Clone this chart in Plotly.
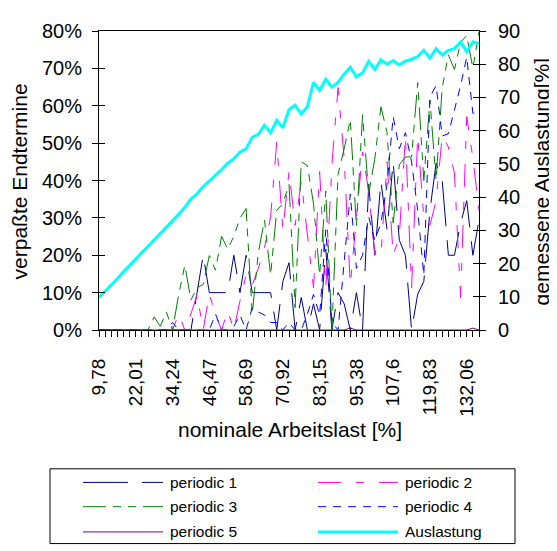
import plotly.graph_objects as go

nominal_load = [9.78, 11.82, 13.86, 15.89, 17.93, 19.97, 22.01, 24.05, 26.09, 28.12,
                30.16, 32.20, 34.24, 36.28, 38.32, 40.35, 42.39, 44.43, 46.47, 48.51,
                50.55, 52.58, 54.62, 56.66, 58.69, 60.73, 62.77, 64.81, 66.85, 68.88,
                70.92, 72.96, 75.00, 77.04, 79.08, 81.11, 83.15, 85.19, 87.23, 89.27,
                91.31, 93.34, 95.38, 97.42, 99.46, 101.50, 103.53, 105.57, 107.60, 109.64,
                111.68, 113.72, 115.76, 117.79, 119.83, 121.87, 123.91, 125.95, 127.98, 130.02,
                132.06, 134.10, 136.14]

tick_labels = ["9,78", "22,01", "34,24", "46,47", "58,69", "70,92",
               "83,15", "95,38", "107,6", "119,83", "132,06"]

periodic_1 = [0]*15 + [0, 10, 20, 10, 10, 10, 10, 20, 10, 20, 10, 10, 10, 10, 0, 13, 18, 0, 8.7, 0,
                       7, 0, 21.6, 0, 10, 7, 0, 10, 0, 39, 20, 39.8, 26.8, 45, 24, 20, 0, 9.6, 13, 32,
                       44.6, 40, 20, 20, 28.6, 34.6, 20, 29.4]
periodic_2 = [0]*13 + [4.3, 0, 4.3, 9.5, 0, 9.6, 4, 0, 5.2, 0, 7.8, 14.7, 12, 16.5, 22, 30.3, 50.2,
                       26.8, 42.4, 28, 39.8, 25.1, 11.3, 42.4, 11.3, 44.2, 64.9, 45.9, 12, 30, 47.6,
                       37.2, 20, 20, 45, 20, 25, 51.9, 11.3, 51.9, 30, 28, 34.6, 51.9, 49, 42, 8.7,
                       57.1, 46, 32]
periodic_3 = [0]*9 + [3.5, 1, 4.8, 0, 9.5, 17.3, 8, 11.3, 12.2, 19.9, 16, 25.1, 21.6, 25.1, 29.9,
                      32.5, 4.3, 20.8, 29.4, 14.7, 32, 33.8, 39, 6, 45, 44, 33.8, 14.7, 37.2, 0, 41.6,
                      48.5, 56.3, 27.7, 57.6, 36.4, 45.9, 59.7, 52.8, 28.6, 44.2, 46.3, 46.3, 66.2,
                      40, 61.5, 40, 64.9, 73.6, 69.7, 77, 78.8, 70.1, 79.7]
periodic_4 = [0]*12 + [2, 0, 0, 0, 0, 0, 0, 4.3, 0, 0, 1, 4, 0, 6, 4.8, 4, 2, 2, 0, 2, 0, 0, 4.3,
                       9.5, 4, 26.8, 2, 0, 18, 36.4, 16.5, 20, 30.3, 24, 28.6, 39, 57.1, 48.5, 52.8,
                       45, 32, 14.7, 62.3, 65.4, 51.9, 52.5, 58.9, 65.4, 73, 58, 58]
periodic_5 = [0]*41 + [0.5] + [0]*19 + [0.5, 0]
auslastung = [9.8, 11.6, 13.5, 15.4, 17.5, 19.4, 21.3, 23.2, 25.1, 27.0,
              29.0, 30.8, 32.8, 34.8, 36.9, 39.4, 41.0, 43.2, 44.8, 46.5,
              48.3, 50.2, 51.5, 53.6, 54.5, 58.0, 58.9, 61.6, 59.4, 63.1,
              60.9, 66.3, 67.7, 65.0, 67.2, 74.5, 72.1, 75.5, 73.1, 74.5,
              77.0, 79.1, 76.2, 77.4, 80.9, 78.4, 81.3, 80.0, 81.1, 79.8,
              80.9, 81.5, 82.3, 84.2, 81.8, 84.7, 82.8, 84.2, 84.7, 86.7,
              83.8, 86.7, 86.2]

left_ticks = [0, 10, 20, 30, 40, 50, 60, 70, 80]
right_ticks = [0, 10, 20, 30, 40, 50, 60, 70, 80, 90]

FONT = "Liberation Sans, Arial, sans-serif"
OFF = 8                      # page body margin of the html page
PAGE_W, PAGE_H = 557, 551
W, H = PAGE_W - OFF, PAGE_H - OFF
L, R, T, B = 99, 479, 22, 330   # plot area in page pixels


def xp(px):
    return (px - L) / (R - L)


def yp(py):
    return (B - py) / (B - T)


series = [
    ("periodic 1", periodic_1, "#000080", "45px,14px"),
    ("periodic 2", periodic_2, "#FF00FF", "23px,15px,8px,15px"),
    ("periodic 3", periodic_3, "#008000", "23px,7px,8px,7px,8px,7px"),
    ("periodic 4", periodic_4, "#0000FF", "8px,7px"),
    ("periodic 5", periodic_5, "#800080", "solid"),
]

fig = go.Figure()
for name, vals, color, dash in series:
    fig.add_trace(go.Scatter(x=nominal_load, y=vals, mode="lines", name=name,
                             line=dict(color=color, width=1, dash=dash),
                             yaxis="y", showlegend=False))
fig.add_trace(go.Scatter(x=nominal_load, y=auslastung, mode="lines", name="Auslastung",
                         line=dict(color="#00FFFF", width=3), yaxis="y2", showlegend=False))
# helper axes for the inward half of the crossing tick marks
fig.add_trace(go.Scatter(x=[], y=[], yaxis="y3", showlegend=False, hoverinfo="skip"))
fig.add_trace(go.Scatter(x=[], y=[], yaxis="y4", showlegend=False, hoverinfo="skip"))

ticktext = [tick_labels[i // 6] if i % 6 == 0 else "" for i in range(len(nominal_load))]

fig.update_layout(
    width=W, height=H, autosize=False,
    margin=dict(l=L - OFF, r=PAGE_W - R, t=T - OFF, b=PAGE_H - B, pad=0),
    paper_bgcolor="white", plot_bgcolor="white",
    font=dict(family=FONT, color="black", size=19),
    showlegend=False,
    xaxis=dict(range=[nominal_load[0], nominal_load[-1]], tickmode="array",
               tickvals=nominal_load, ticktext=ticktext, tickangle=-90,
               ticks="outside", ticklen=6, tickcolor="black", tickwidth=1,
               showline=True, linecolor="black", linewidth=1, mirror=True,
               showgrid=False, zeroline=False, tickfont=dict(size=19, family=FONT),
               ticklabelstandoff=14),
    yaxis=dict(range=[0, 80], tickmode="array", tickvals=left_ticks,
               ticktext=[f"{v}%" for v in left_ticks], ticks="outside", ticklen=6,
               tickcolor="black", showline=True, linecolor="black", linewidth=1,
               showgrid=False, zeroline=False, tickfont=dict(size=20, family=FONT),
               ticklabelstandoff=6),
    yaxis2=dict(range=[0, 90], tickmode="array", tickvals=right_ticks,
                overlaying="y", side="right", ticks="outside", ticklen=6,
                tickcolor="black", showline=True, linecolor="black", linewidth=1,
                showgrid=False, zeroline=False, tickfont=dict(size=20, family=FONT),
                ticklabelstandoff=8),
    yaxis3=dict(range=[0, 80], tickmode="array", tickvals=left_ticks, overlaying="y",
                side="left", ticks="inside", ticklen=6, tickcolor="black",
                showticklabels=False, showline=False, showgrid=False, zeroline=False),
    yaxis4=dict(range=[0, 90], tickmode="array", tickvals=right_ticks, overlaying="y",
                side="right", ticks="inside", ticklen=6, tickcolor="black",
                showticklabels=False, showline=False, showgrid=False, zeroline=False),
)

annotations = [
    dict(text="nominale Arbeitslast [%]", x=xp(290), y=yp(433), xref="paper", yref="paper",
         showarrow=False, font=dict(size=21, family=FONT), xanchor="center", yanchor="middle"),
    dict(text="verpaßte Endtermine", x=xp(19), y=yp(177), xref="paper", yref="paper",
         showarrow=False, textangle=-90, font=dict(size=21, family=FONT),
         xanchor="center", yanchor="middle"),
    dict(text="gemessene Auslastung[%]", x=xp(541), y=yp(177), xref="paper", yref="paper",
         showarrow=False, textangle=-90, font=dict(size=21, family=FONT),
         xanchor="center", yanchor="middle"),
]

shapes = [dict(type="rect", xref="paper", yref="paper", x0=xp(50), x1=xp(515),
               y0=yp(473), y1=yp(550), line=dict(color="black", width=1), fillcolor="white",
               layer="below")]

legend_items = [(s[0], s[2], s[3], 1) for s in series] + [("Auslastung", "#00FFFF", "solid", 3)]
rows = [487, 512, 538]
cols = [(83, 163, 168), (318, 398, 403)]
for k, (name, color, dash, width) in enumerate(legend_items):
    r, c = rows[k // 2], cols[k % 2]
    shapes.append(dict(type="line", xref="paper", yref="paper", x0=xp(c[0]), x1=xp(c[1]),
                       y0=yp(r), y1=yp(r), line=dict(color=color, width=width, dash=dash)))
    annotations.append(dict(text=name, x=xp(c[2]), y=yp(r), xref="paper", yref="paper",
                            showarrow=False, xanchor="left", yanchor="middle",
                            font=dict(size=15.5, family=FONT)))

fig.update_layout(annotations=annotations, shapes=shapes)
fig.write_html("out.html")
